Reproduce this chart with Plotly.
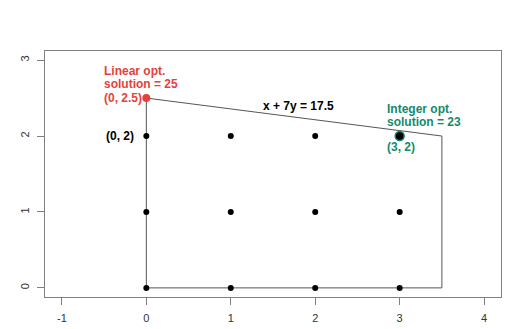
import plotly.graph_objects as go

# Data
lattice_x = [0, 1, 2, 3, 0, 1, 2, 3, 0, 1, 2, 3]
lattice_y = [0, 0, 0, 0, 1, 1, 1, 1, 2, 2, 2, 2]
region_x = [0, 0, 3.5, 3.5, 0]
region_y = [0, 2.5, 2, 0, 0]
lin_opt = (0, 2.5)
int_opt = (3, 2)
x_ticks = [-1, 0, 1, 2, 3, 4]
x_tick_labels = ["-1", "0", "1", "2", "3", "4"]
y_ticks = [0, 1, 2, 3]

RED = "#e5413a"
TEAL = "#138a6e"
FONT = "Liberation Sans, Arial, sans-serif"

fig = go.Figure()
fig.add_trace(go.Scatter(x=region_x, y=region_y, mode="lines",
                         line=dict(color="#555555", width=1), hoverinfo="skip"))
fig.add_trace(go.Scatter(x=lattice_x, y=lattice_y, mode="markers",
                         marker=dict(color="black", size=6)))
fig.add_trace(go.Scatter(x=[lin_opt[0]], y=[lin_opt[1]], mode="markers",
                         marker=dict(color=RED, size=8)))
fig.add_trace(go.Scatter(x=[int_opt[0]], y=[int_opt[1]], mode="markers",
                         marker=dict(color="black", size=9,
                                     line=dict(color=TEAL, width=1.5))))

def ann(x, y, text, color, xanchor, xshift=0, yshift=0):
    fig.add_annotation(x=x, y=y, text=text, showarrow=False, xanchor=xanchor,
                       yanchor="middle", xshift=xshift, yshift=yshift,
                       font=dict(family=FONT, size=12, color=color))

B = lambda s: "<b>" + s + "</b>"
ann(lin_opt[0], lin_opt[1], B("Linear opt."), RED, "left", -44, 27)
ann(lin_opt[0], lin_opt[1], B("solution = 25"), RED, "left", -44, 14)
ann(lin_opt[0], lin_opt[1], B("(0, 2.5)"), RED, "left", -44, 0)
ann(0, 2, B("(0, 2)"), "black", "right", -10, 0)
ann(1.8, (17.5 - 1.8) / 7, B("x + 7y = 17.5"), "black", "center", 0, 12)
ann(int_opt[0], int_opt[1], B("Integer opt."), TEAL, "left", -15, 27)
ann(int_opt[0], int_opt[1], B("solution = 23"), TEAL, "left", -15, 14)
ann(int_opt[0], int_opt[1], B("(3, 2)"), TEAL, "center", 1, -11)

axis_common = dict(showgrid=False, zeroline=False, showline=True, mirror=True,
                   linecolor="#808080", linewidth=1, ticks="outside", ticklen=7,
                   tickcolor="#808080", tickwidth=1, automargin=False,
                   tickfont=dict(family=FONT, size=11, color="#333333"))
fig.update_xaxes(range=[-1.2, 4.2], tickvals=x_ticks, ticktext=x_tick_labels,
                 ticklabelstandoff=4, **axis_common)
fig.update_yaxes(range=[-0.12, 3.12], tickvals=y_ticks, tickangle=-90,
                 ticklabelstandoff=4, **axis_common)

# the page body adds an 8px offset; size the figure so the plot box lands where it should
fig.update_layout(width=513, height=321, showlegend=False,
                  margin=dict(l=37, r=20, t=43, b=32),
                  paper_bgcolor="white", plot_bgcolor="white")

fig.write_html("out.html")
